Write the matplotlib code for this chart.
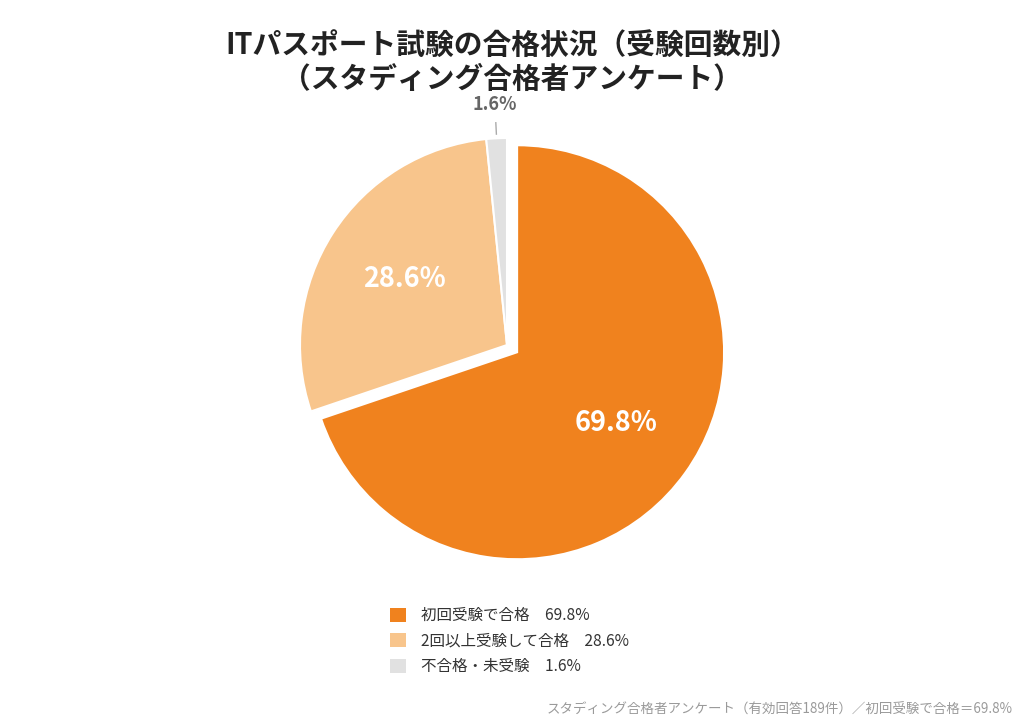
import numpy as np
import matplotlib
matplotlib.use("Agg")
import matplotlib.pyplot as plt
from matplotlib.patches import Patch

plt.rcParams['font.family'] = ['Noto Sans CJK JP', 'DejaVu Sans']

categories = ['初回受験で合格', '2回以上受験して合格', '不合格・未受験']
values = [69.8, 28.6, 1.6]
colors = ['#F0821E', '#F8C58C', '#E1E1E1']
title = 'ITパスポート試験の合格状況（受験回数別）\n（スタディング合格者アンケート）'
footer = 'スタディング合格者アンケート（有効回答189件）／初回受験で合格＝69.8%'

W, H = 1024, 728
fig = plt.figure(figsize=(W / 100, H / 100), dpi=100)

# pie axes: centre (507,345) px, radius 207 px
R = 207
L = 1.25
cx, cy = 507, 345
size = 2 * L * R
ax = fig.add_axes([(cx - size / 2) / W, (H - cy - size / 2) / H, size / W, size / H])
ax.set_xlim(-L, L)
ax.set_ylim(-L, L)
ax.set_aspect('equal')
ax.axis('off')

wedges, texts, autotexts = ax.pie(
    values, colors=colors, startangle=90, counterclock=False,
    explode=[0.06, 0, 0], autopct='%.1f%%', pctdistance=0.59,
    wedgeprops=dict(edgecolor='white', linewidth=1.5),
    textprops=dict(color='white', fontsize=19.5, fontweight='bold'))

# small slice label outside
w = wedges[2]
mid = np.deg2rad((w.theta1 + w.theta2) / 2)
t = autotexts[2]
t.set_position((1.165 * np.cos(mid), 1.165 * np.sin(mid)))
t.set_color('#666666')
t.set_fontsize(13)
ax.plot([1.02 * np.cos(mid), 1.075 * np.cos(mid)],
        [1.02 * np.sin(mid), 1.075 * np.sin(mid)], color='#AAAAAA', lw=1)

fig.text(0.5, 1 - 62 / H, title, ha='center', va='center', fontsize=20.7,
         fontweight='bold', color='#222222', linespacing=1.18)

handles = [Patch(facecolor=c, edgecolor='none') for c in colors]
labels = [f'{c}　{v:.1f}%' for c, v in zip(categories, values)]
fig.legend(handles, labels, loc='upper left',
           bbox_to_anchor=(390 / W, 1 - 607 / H), frameon=False,
           fontsize=11.2, handlelength=1.0, handleheight=1.0, handletextpad=1.0,
           labelspacing=0.55, borderpad=0, borderaxespad=0, labelcolor='#333333')

fig.text(1013 / W, 1 - 710 / H, footer, ha='right', va='center', fontsize=9.7,
         color='#9A9A9A')

fig.savefig('out.png', dpi=100, facecolor='white')
